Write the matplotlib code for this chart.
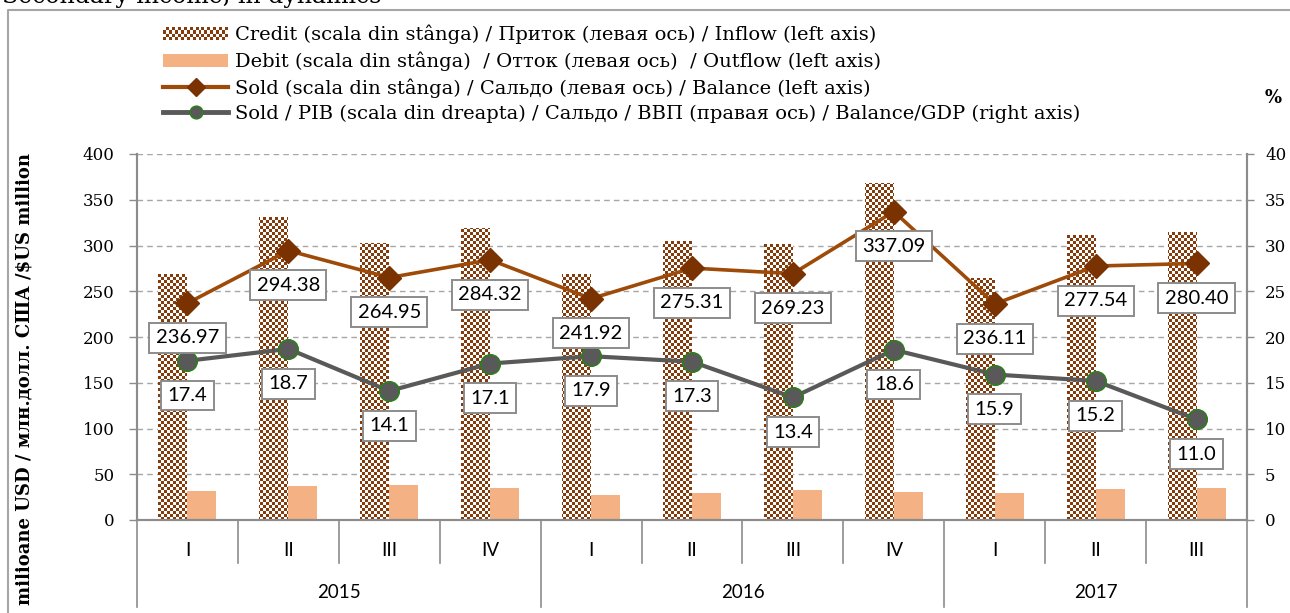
import numpy as np
import matplotlib
matplotlib.use("Agg")
import matplotlib.pyplot as plt
from matplotlib.patches import Rectangle
from matplotlib.lines import Line2D
from matplotlib.path import Path
from matplotlib.legend_handler import HandlerBase
from matplotlib.transforms import blended_transform_factory

# ── Data ────────────────────────────────────────────────────────────────────
quarters = ["I", "II", "III", "IV", "I", "II", "III", "IV", "I", "II", "III"]
years = ["2015", "2016", "2017"]
year_spans = [(0, 4), (4, 8), (8, 11)]

credit = [269, 331, 303, 319, 269, 305, 302, 368, 265, 311, 315]
debit = [32, 37, 38, 35, 27, 30, 33, 31, 29, 34, 35]
balance = [236.97, 294.38, 264.95, 284.32, 241.92, 275.31, 269.23, 337.09,
           236.11, 277.54, 280.40]
balance_gdp = [17.4, 18.7, 14.1, 17.1, 17.9, 17.3, 13.4, 18.6, 15.9, 15.2, 11.0]

labels = [
    "Credit (scala din stânga) / Приток (левая ось) / Inflow (left axis)",
    "Debit (scala din stânga)  / Отток (левая ось)  / Outflow (left axis)",
    "Sold (scala din stânga) / Сальдо (левая ось) / Balance (left axis)",
    "Sold / PIB (scala din dreapta) / Сальдо / ВВП (правая ось) / Balance/GDP (right axis)",
]

# ── Styles ──────────────────────────────────────────────────────────────────
BROWN = "#843c0c"
DEBIT_C = "#f4b183"
SOLD_C = "#9e4a08"
SOLD_MK = "#7a3300"
GDP_C = "#595959"
GDP_EDGE = "#2e7d1f"
GRID_C = "#a6a6a6"
AXIS_C = "#8c8c8c"
SERIF = "DejaVu Serif"
SANS = "Lato"


class CheckerHandler(HandlerBase):
    def create_artists(self, legend, orig_handle, xdescent, ydescent,
                       width, height, fontsize, trans):
        ncol, nrow = 22, 4
        cw, ch = width / ncol, height / nrow
        arts = []
        for r in range(nrow):
            for c in range(ncol):
                col = BROWN if (r + c) % 2 == 0 else "white"
                arts.append(Rectangle((-xdescent + c * cw, -ydescent + r * ch),
                                      cw, ch, facecolor=col, edgecolor="none",
                                      transform=trans))
        return arts


fig = plt.figure(figsize=(12.9, 6.13), dpi=100)
ax = fig.add_axes([137 / 1290, 1 - 520 / 613, 1110 / 1290, 366 / 613])
ax2 = ax.twinx()

n = len(quarters)
x = np.arange(n) + 0.5
w = 0.287

# credit bars with checker fill
cbars = ax.bar(x - w / 2, credit, w, color="white", edgecolor="none", zorder=2)
ax.bar(x + w / 2, debit, w, color=DEBIT_C, edgecolor="none", zorder=2)
clip = Path.make_compound_path(
    *[b.get_patch_transform().transform_path(b.get_path()) for b in cbars])
ny, nx = 122, 370
chk = np.add.outer(np.arange(ny), np.arange(nx)) % 2
img = np.ones((ny, nx, 3))
img[chk == 0] = matplotlib.colors.to_rgb(BROWN)
im = ax.imshow(img, extent=(0, n, 0, 400), aspect="auto",
               interpolation="nearest", origin="lower", zorder=2.5)
im.set_clip_path(clip, ax.transData)

ax.plot(x, balance, color=SOLD_C, lw=2.6, marker="D", ms=12,
        mfc=SOLD_MK, mec=SOLD_MK, zorder=4)
ax2.plot(x, balance_gdp, color=GDP_C, lw=3, marker="o", ms=14,
         mfc=GDP_C, mec=GDP_EDGE, mew=1.2, zorder=4)

box = dict(boxstyle="square,pad=0.32", fc="white", ec=AXIS_C, lw=1.4)
for xi, v in zip(x, balance):
    ax2.annotate(f"{v:.2f}", (xi, v), xycoords=ax.transData,
                 xytext=(0, -25), textcoords="offset points",
                 ha="center", va="center", fontsize=14.5, family=SANS,
                 bbox=box, zorder=6)
for xi, v in zip(x, balance_gdp):
    ax2.annotate(f"{v:.1f}", (xi, v), xytext=(0, -25),
                 textcoords="offset points", ha="center", va="center",
                 fontsize=14.5, family=SANS, bbox=box, zorder=5)

# axes
ax.set_xlim(0, n)
ax.set_ylim(0, 400)
ax2.set_ylim(0, 40)
ax.set_yticks(np.arange(0, 401, 50))
ax2.set_yticks(np.arange(0, 41, 5))
ax.set_xticks([])
ax.yaxis.grid(True, color=GRID_C, ls=(0, (4, 3)), lw=1)
ax.set_axisbelow(True)
for a in (ax, ax2):
    a.spines["top"].set_visible(False)
    for s in ("left", "right", "bottom"):
        a.spines[s].set_color(AXIS_C)
        a.spines[s].set_linewidth(1.5)
    a.tick_params(axis="y", colors="black", labelsize=12, length=6,
                  width=1, color=AXIS_C, pad=10)
    for t in a.get_yticklabels():
        t.set_family(SERIF)
ax2.tick_params(axis="y", pad=8, length=5)

# multi-level category axis
tr = blended_transform_factory(ax.transData, ax.transAxes)
for b in range(n + 1):
    depth = -0.238 if b in (0, 4, 8, 11) else -0.117
    ax.plot([b, b], [0, depth], transform=tr, color=AXIS_C, lw=1.2,
            clip_on=False)
for xi, q in zip(x, quarters):
    ax.text(xi, -0.082, q, transform=tr, ha="center", va="center",
            fontsize=13.5, family=SANS)
for yr, (a0, a1) in zip(years, year_spans):
    ax.text((a0 + a1) / 2, -0.197, yr, transform=tr, ha="center",
            va="center", fontsize=13.5, family=SANS)

# legend
h_credit = Rectangle((0, 0), 1, 1)
h_debit = Rectangle((0, 0), 1, 1, fc=DEBIT_C, ec="none")
h_sold = Line2D([], [], color=SOLD_C, lw=3, marker="D", ms=9,
                mfc=SOLD_MK, mec=SOLD_MK)
h_gdp = Line2D([], [], color=GDP_C, lw=3.5, marker="o", ms=9,
               mfc=GDP_C, mec=GDP_EDGE, mew=1.2)
fig.legend([h_credit, h_debit, h_sold, h_gdp], labels,
           handler_map={h_credit: CheckerHandler()},
           loc="upper left", bbox_to_anchor=(163 / 1290, 1 - 25 / 613),
           frameon=False, prop={"family": SERIF, "size": 14},
           handlelength=3.35, handleheight=0.65, handletextpad=0.35,
           labelspacing=0.36, borderpad=0, borderaxespad=0)

# axis titles and frame
fig.text(25 / 1290, 1 - 379 / 613, "milioane USD / млн.долл. США /$US million",
         rotation=90, ha="center", va="center", fontsize=13,
         fontweight="bold", family=SERIF)
fig.text(1273 / 1290, 1 - 98 / 613, "%", ha="center", va="center",
         fontsize=13, fontweight="bold", family=SERIF)
fig.text(2 / 1290, 1 - 3 / 613, "Secondary income, in dynamics",
         ha="left", va="baseline", fontsize=17, family=SERIF)
fig.add_artist(Line2D([8 / 1290, 8 / 1290, 1], [0, 1 - 10 / 613, 1 - 10 / 613],
                      color=GRID_C, lw=1.5, transform=fig.transFigure))

fig.savefig("out.png", dpi=100)
